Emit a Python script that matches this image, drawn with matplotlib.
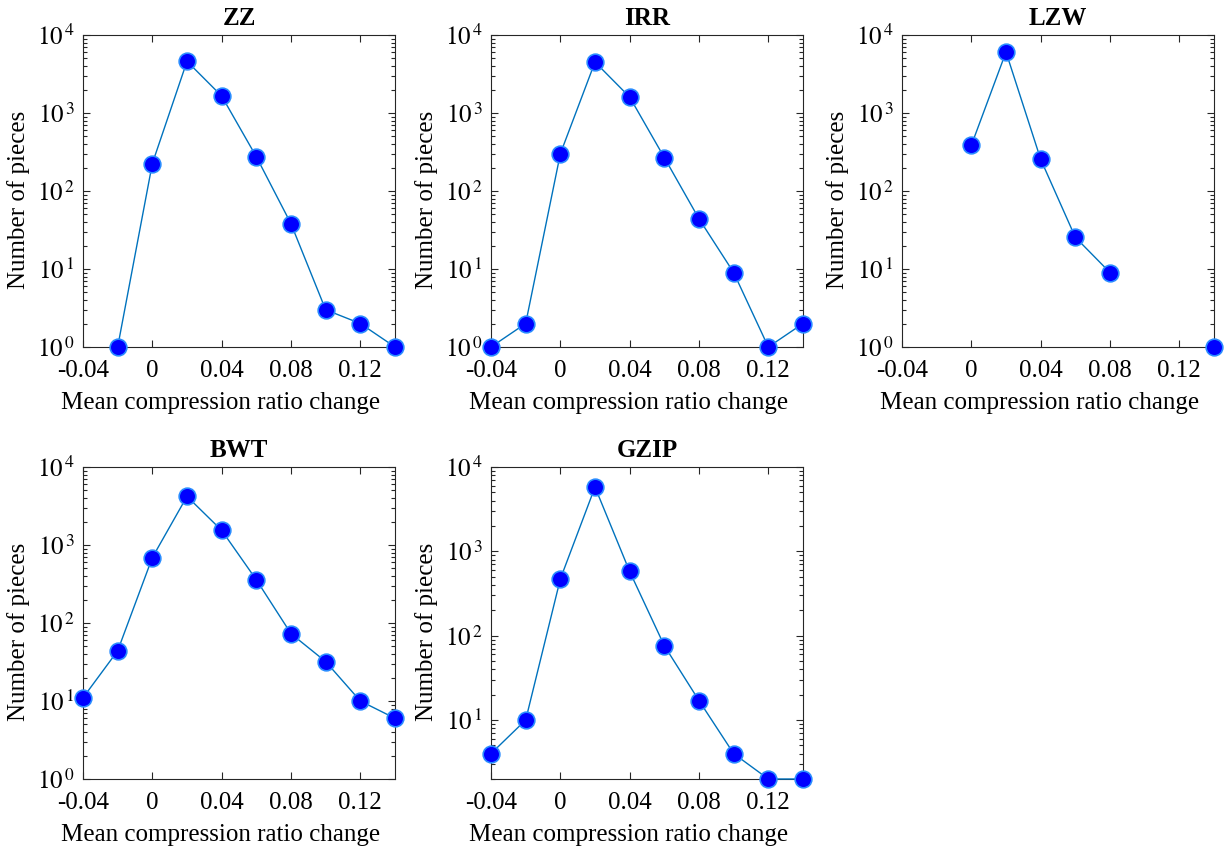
import matplotlib
matplotlib.use("Agg")
import matplotlib.pyplot as plt
import numpy as np

plt.rcParams['font.family'] = ['Liberation Serif', 'DejaVu Serif']
plt.rcParams['mathtext.fontset'] = 'stix'

# mean compression ratio change (bin centres)
x = [-0.04, -0.02, 0.0, 0.02, 0.04, 0.06, 0.08, 0.10, 0.12, 0.14]

# number of pieces per bin (nan = empty bin, not drawn on log axis)
zz = [np.nan, 1, 225, 4600, 1650, 275, 38, 3, 2, 1]
irr = [1, 2, 300, 4500, 1600, 268, 44, 9, 1, 2]
lzw = [np.nan, np.nan, 385, 6050, 255, 25.5, 9, np.nan, np.nan, 1]
bwt = [11, 44, 690, 4200, 1540, 358, 73, 32, 10, 6]
gzip = [4, 10, 470, 5780, 577, 76, 17, 4, 2, 2]

titles = ['ZZ', 'IRR', 'LZW', 'BWT', 'GZIP']
series = [zz, irr, lzw, bwt, gzip]
ylow = [1, 1, 1, 1, 2]

W, H = 1227, 847
lefts = [83, 491, 902, 83, 491]
tops = [35, 35, 35, 467, 467]
aw, ah = 312, 312

fig = plt.figure(figsize=(W / 100, H / 100), dpi=100)

for i in range(5):
    ax = fig.add_axes([lefts[i] / W, (H - tops[i] - ah) / H, aw / W, ah / H])
    ax.plot(x, series[i], '-', color='#0072BD', lw=1.0, marker='o',
            markersize=12, markerfacecolor='#0000FF', markeredgecolor='#2A8CFF',
            markeredgewidth=1.2, clip_on=False, zorder=3)
    ax.set_yscale('log')
    ax.set_xticks([-0.04, 0, 0.04, 0.08, 0.12])
    ax.set_xticklabels(['-0.04', '0', '0.04', '0.08', '0.12'])
    ax.set_yticks([1, 10, 100, 1000, 10000])
    ax.set_yticklabels([r'$10^{\,%d}$' % k for k in range(5)])
    ax.set_xlim(-0.04, 0.14)
    ax.set_ylim(ylow[i], 1e4)
    ax.tick_params(which='both', direction='in', top=True, right=True,
                   labelsize=18, color='#262626', width=0.8)
    ax.tick_params(which='major', length=5)
    ax.tick_params(which='minor', length=3)
    ax.tick_params(axis='x', pad=9)
    ax.tick_params(axis='y', pad=6)
    for s in ax.spines.values():
        s.set_color('#262626')
        s.set_linewidth(0.8)
    ax.set_title(titles[i], fontsize=18, fontweight='bold', pad=7)
    ax.set_xlabel('Mean compression ratio change', fontsize=18)
    ax.set_ylabel('Number of pieces', fontsize=18)
    ax.xaxis.set_label_coords(0.44, -0.145)
    ax.yaxis.set_label_coords(-0.17, 0.47)

fig.savefig('out.png', dpi=100)
